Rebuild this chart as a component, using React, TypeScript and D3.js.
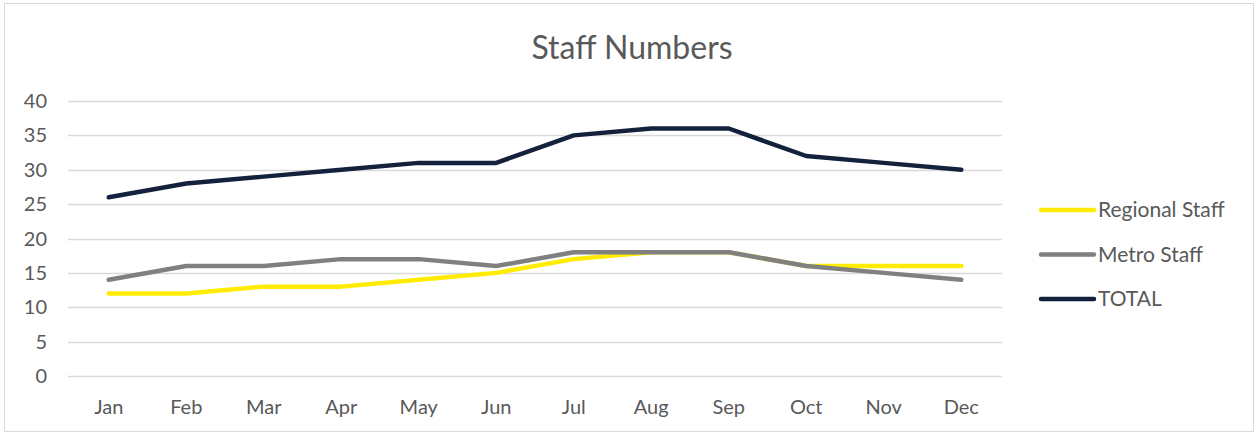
import { useEffect, useRef } from "react";
import * as d3 from "d3";

const months = ["Jan", "Feb", "Mar", "Apr", "May", "Jun", "Jul", "Aug", "Sep", "Oct", "Nov", "Dec"];
const regional = [12, 12, 13, 13, 14, 15, 17, 18, 18, 16, 16, 16];
const metro = [14, 16, 16, 17, 17, 16, 18, 18, 18, 16, 15, 14];
const total = [26, 28, 29, 30, 31, 31, 35, 36, 36, 32, 31, 30];
const yTicks = [0, 5, 10, 15, 20, 25, 30, 35, 40];

const seriesList = [
  { name: "Regional Staff", values: regional, color: "#FFEC00" },
  { name: "Metro Staff", values: metro, color: "#808080" },
  { name: "TOTAL", values: total, color: "#14213D" },
];

const font = "Lato, 'Open Sans', sans-serif";

const App = () => {
  const ref = useRef<SVGSVGElement | null>(null);

  useEffect(() => {
    if (!ref.current) return;
    const svg = d3.select(ref.current);
    svg.selectAll("*").remove();

    const width = 1258;
    const height = 434;
    const margin = { top: 101, right: 258, bottom: 58, left: 70 };

    svg.append("rect")
      .attr("x", 4.5).attr("y", 3.5)
      .attr("width", width - 9).attr("height", height - 6)
      .attr("fill", "#fff").attr("stroke", "#d9d9d9");

    const x = d3.scaleBand()
      .domain(months)
      .range([margin.left, width - margin.right]);

    const y = d3.scaleLinear()
      .domain([0, 40])
      .range([height - margin.bottom, margin.top]);

    // grid
    svg.append("g")
      .selectAll("line")
      .data(yTicks)
      .join("line")
      .attr("x1", margin.left - 2)
      .attr("x2", width - margin.right + 2)
      .attr("y1", d => Math.round(y(d)) + 0.5)
      .attr("y2", d => Math.round(y(d)) + 0.5)
      .attr("stroke", "#d9d9d9")
      .attr("stroke-width", 1.5);

    svg.append("g")
      .selectAll("text")
      .data(yTicks)
      .join("text")
      .attr("x", 47)
      .attr("y", d => y(d))
      .attr("dy", "0.35em")
      .attr("text-anchor", "end")
      .attr("font-family", font)
      .attr("font-size", 20)
      .attr("fill", "#595959")
      .text(d => d);

    svg.append("g")
      .selectAll("text")
      .data(months)
      .join("text")
      .attr("x", d => x(d)! + x.bandwidth() / 2)
      .attr("y", 407)
      .attr("dy", "0.35em")
      .attr("text-anchor", "middle")
      .attr("font-family", font)
      .attr("font-size", 20)
      .attr("fill", "#595959")
      .text(d => d);

    const line = d3.line<number>()
      .x((_, i) => x(months[i])! + x.bandwidth() / 2)
      .y(d => y(d));

    svg.append("g")
      .selectAll("path")
      .data(seriesList)
      .join("path")
      .attr("d", d => line(d.values))
      .attr("fill", "none")
      .attr("stroke", d => d.color)
      .attr("stroke-width", 4.5)
      .attr("stroke-linejoin", "round")
      .attr("stroke-linecap", "round");

    svg.append("text")
      .attr("x", 632)
      .attr("y", 48)
      .attr("dy", "0.35em")
      .attr("text-anchor", "middle")
      .attr("font-family", font)
      .attr("font-size", 32)
      .attr("fill", "#595959")
      .text("Staff Numbers");

    const legend = svg.append("g")
      .selectAll("g")
      .data(seriesList)
      .join("g")
      .attr("transform", (_, i) => `translate(1041,${210 + i * 44.5})`);

    legend.append("line")
      .attr("x1", 0).attr("x2", 53)
      .attr("stroke", d => d.color)
      .attr("stroke-width", 4.5)
      .attr("stroke-linecap", "round");

    legend.append("text")
      .attr("x", 57)
      .attr("dy", "0.35em")
      .attr("font-family", font)
      .attr("font-size", 21)
      .attr("fill", "#595959")
      .text(d => d.name);
  }, []);

  return (
    <svg
      ref={ref}
      width={1258}
      height={434}
      style={{ position: "absolute", left: 0, top: 0 }}
    />
  );
};

export default App;
